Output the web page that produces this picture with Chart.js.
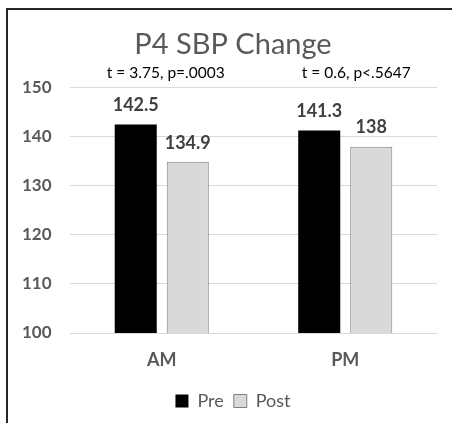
<!DOCTYPE html>
<html>
<head>
<meta charset="utf-8">
<script src="https://cdn.jsdelivr.net/npm/chart.js@4"></script>
<style>
  html, body { margin: 0; padding: 0; background: #fff; overflow: hidden; }
  body { width: 452px; height: 423px; position: relative; }
  #frame { position: absolute; left: 6px; top: 8px; width: 460px; height: 430px;
           border-left: 2px solid #262626; border-top: 2px solid #262626; }
  #wrap { position: absolute; left: 7px; top: 8px; width: 452px; height: 423px; }
</style>
</head>
<body>
<div id="frame"></div>
<div id="wrap"><canvas id="sbpChart" width="452" height="423"></canvas></div>
<script>
// P4 SBP Change
const categories = ['AM', 'PM'];
const preValues = [142.5, 141.3];
const postValues = [134.9, 138];
const testLabels = ['t = 3.75, p=.0003', 't = 0.6, p<.5647'];
const yTicks = [100, 110, 120, 130, 140, 150];

const FONT = 'Lato, "Open Sans", sans-serif';

// value labels above bars
const valueLabels = {
  id: 'valueLabels',
  afterDatasetsDraw(chart) {
    const c = chart.ctx;
    c.save();
    c.font = 'bold 18px ' + FONT;
    c.fillStyle = '#404040';
    c.textAlign = 'center';
    c.textBaseline = 'middle';
    chart.data.datasets.forEach((ds, i) => {
      chart.getDatasetMeta(i).data.forEach((bar, j) => {
        c.fillText(String(ds.data[j]), bar.x, bar.y - 19);
      });
    });
    c.restore();
  }
};

// t-test text above each group
const testText = {
  id: 'testText',
  afterDraw(chart) {
    const c = chart.ctx;
    const x = chart.scales.x;
    const shift = [4, 11];
    c.save();
    c.font = '15.5px ' + FONT;
    c.fillStyle = '#000';
    c.textAlign = 'center';
    c.textBaseline = 'middle';
    testLabels.forEach((t, i) => {
      c.fillText(t, x.getPixelForValue(i) + shift[i], chart.chartArea.top - 15);
    });
    c.restore();
  }
};

new Chart(document.getElementById('sbpChart'), {
  type: 'bar',
  data: {
    labels: categories,
    datasets: [
      { label: 'Pre', data: preValues, backgroundColor: '#000000', borderColor: '#000000', borderWidth: 0 },
      { label: 'Post', data: postValues, backgroundColor: '#d9d9d9', borderColor: '#808080', borderWidth: 1 }
    ]
  },
  options: {
    responsive: false,
    animation: false,
    categoryPercentage: 0.567,
    barPercentage: 0.808,
    layout: { padding: { left: 22, right: 22, top: 13, bottom: 11 } },
    plugins: {
      title: {
        display: true,
        text: 'P4 SBP Change',
        color: '#595959',
        font: { family: FONT, size: 29, weight: 'normal' },
        padding: { top: 6, bottom: 26 }
      },
      legend: {
        position: 'bottom',
        labels: {
          color: '#595959',
          font: { family: FONT, size: 18 },
          boxWidth: 13,
          boxHeight: 13,
          padding: 10
        }
      },
      tooltip: { enabled: false }
    },
    scales: {
      x: {
        afterFit(s) { s.height = 49; },
        grid: { display: false },
        border: { display: false },
        ticks: { color: '#595959', font: { family: FONT, size: 18, weight: 'bold' }, padding: 8 }
      },
      y: {
        min: 100,
        max: 150,
        afterFit(s) { s.width = 41; },
        afterBuildTicks(s) { s.ticks = yTicks.map(v => ({ value: v })); },
        grid: { color: '#d9d9d9', drawTicks: false },
        border: { display: false },
        ticks: {
          color: '#595959',
          font: { family: FONT, size: 17, weight: 'bold' },
          mirror: true,
          crossAlign: 'near',
          padding: -48
        }
      }
    }
  },
  plugins: [valueLabels, testText]
});
</script>
</body>
</html>
